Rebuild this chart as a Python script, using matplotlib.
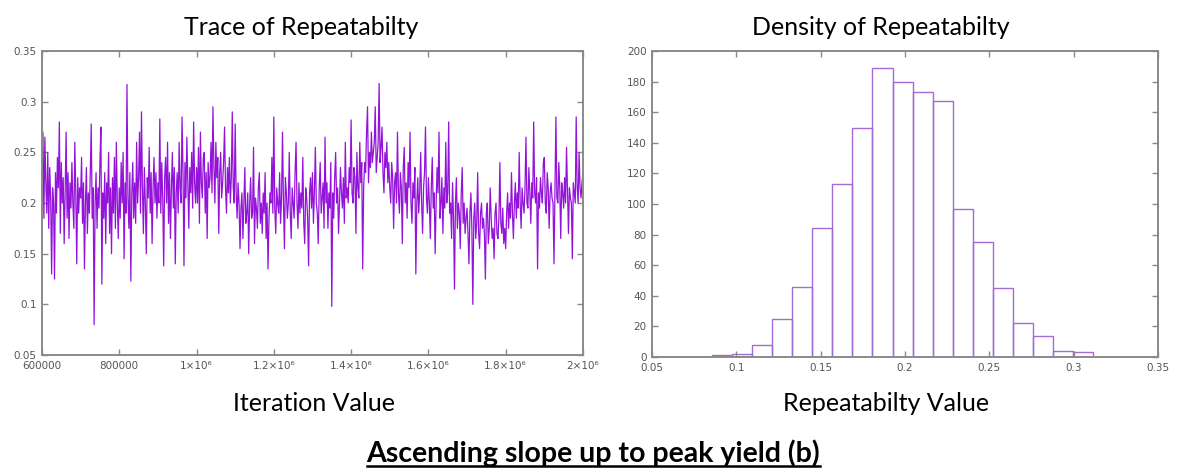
import numpy as np
import matplotlib
matplotlib.use("Agg")
import matplotlib.pyplot as plt
from matplotlib.lines import Line2D

# trace of repeatability, one sample per 2500 iterations
TRACE_START, TRACE_STEP = 600000, 2500
trace = [
    # 600k - 700k
    0.2, 0.27, 0.185, 0.265, 0.22, 0.19, 0.25, 0.175, 0.235, 0.205, 0.13, 0.215, 0.2, 0.125, 0.23, 0.19, 0.245, 0.215, 0.28, 0.17,
    0.24, 0.2, 0.225, 0.16, 0.21, 0.27, 0.185, 0.23, 0.165, 0.22, 0.195, 0.24, 0.2, 0.175, 0.26, 0.21, 0.14, 0.225, 0.19, 0.215,
    # 700k - 800k
    0.205, 0.245, 0.18, 0.22, 0.135, 0.2, 0.235, 0.17, 0.21, 0.19, 0.228, 0.278, 0.185, 0.215, 0.08, 0.2, 0.23, 0.175, 0.215, 0.195,
    0.24, 0.275, 0.12, 0.21, 0.185, 0.23, 0.16, 0.22, 0.2, 0.25, 0.17, 0.215, 0.15, 0.225, 0.19, 0.245, 0.175, 0.26, 0.2, 0.165,
    # 800k - 900k
    0.215, 0.185, 0.24, 0.2, 0.25, 0.145, 0.22, 0.19, 0.317, 0.205, 0.175, 0.23, 0.123, 0.21, 0.24, 0.185, 0.22, 0.18, 0.26, 0.2,
    0.225, 0.27, 0.19, 0.29, 0.215, 0.17, 0.235, 0.2, 0.15, 0.225, 0.205, 0.255, 0.19, 0.23, 0.16, 0.215, 0.245, 0.2, 0.23, 0.185,
    # 900k - 1.0M
    0.22, 0.2, 0.283, 0.19, 0.24, 0.205, 0.138, 0.225, 0.245, 0.2, 0.26, 0.18, 0.23, 0.165, 0.215, 0.25, 0.195, 0.235, 0.14, 0.21,
    0.23, 0.19, 0.26, 0.215, 0.2, 0.285, 0.23, 0.138, 0.24, 0.205, 0.265, 0.22, 0.175, 0.235, 0.21, 0.25, 0.195, 0.28, 0.22, 0.2,
    # 1.0M - 1.1M
    0.235, 0.2, 0.255, 0.18, 0.27, 0.22, 0.205, 0.245, 0.25, 0.19, 0.23, 0.165, 0.24, 0.215, 0.225, 0.26, 0.21, 0.295, 0.235, 0.2,
    0.26, 0.225, 0.245, 0.17, 0.23, 0.25, 0.205, 0.22, 0.24, 0.275, 0.215, 0.19, 0.235, 0.21, 0.245, 0.2, 0.225, 0.29, 0.215, 0.2,
    # 1.1M - 1.2M
    0.278, 0.21, 0.185, 0.22, 0.2, 0.155, 0.195, 0.21, 0.165, 0.2, 0.235, 0.18, 0.19, 0.21, 0.15, 0.2, 0.225, 0.185, 0.19, 0.255,
    0.16, 0.205, 0.195, 0.175, 0.215, 0.23, 0.18, 0.2, 0.17, 0.21, 0.19, 0.23, 0.165, 0.2, 0.135, 0.185, 0.21, 0.2, 0.245, 0.19,
    # 1.2M - 1.3M
    0.285, 0.195, 0.17, 0.215, 0.2, 0.19, 0.23, 0.18, 0.205, 0.27, 0.2, 0.155, 0.225, 0.21, 0.185, 0.2, 0.25, 0.19, 0.165, 0.215,
    0.2, 0.185, 0.23, 0.26, 0.2, 0.175, 0.22, 0.19, 0.21, 0.195, 0.245, 0.18, 0.16, 0.215, 0.205, 0.185, 0.138, 0.21, 0.225, 0.195,
    # 1.3M - 1.4M
    0.23, 0.18, 0.21, 0.255, 0.2, 0.19, 0.16, 0.215, 0.24, 0.19, 0.205, 0.22, 0.175, 0.265, 0.2, 0.22, 0.175, 0.21, 0.195, 0.24,
    0.098, 0.21, 0.185, 0.225, 0.25, 0.2, 0.215, 0.17, 0.2, 0.235, 0.21, 0.195, 0.225, 0.18, 0.26, 0.205, 0.215, 0.2, 0.235, 0.22,
    # 1.4M - 1.5M
    0.282, 0.21, 0.2, 0.235, 0.225, 0.17, 0.25, 0.215, 0.205, 0.26, 0.22, 0.24, 0.135, 0.215, 0.24, 0.23, 0.27, 0.295, 0.22, 0.25,
    0.235, 0.27, 0.24, 0.25, 0.26, 0.295, 0.23, 0.245, 0.26, 0.318, 0.24, 0.255, 0.275, 0.23, 0.21, 0.25, 0.235, 0.26, 0.22, 0.24,
    # 1.5M - 1.6M
    0.215, 0.2, 0.24, 0.225, 0.175, 0.22, 0.23, 0.2, 0.27, 0.21, 0.19, 0.23, 0.215, 0.16, 0.235, 0.255, 0.2, 0.22, 0.185, 0.24,
    0.215, 0.27, 0.2, 0.18, 0.22, 0.205, 0.235, 0.13, 0.2, 0.225, 0.19, 0.21, 0.25, 0.2, 0.17, 0.215, 0.23, 0.275, 0.205, 0.19,
    # 1.6M - 1.7M
    0.225, 0.2, 0.165, 0.215, 0.245, 0.195, 0.21, 0.15, 0.2, 0.235, 0.21, 0.27, 0.185, 0.2, 0.225, 0.17, 0.215, 0.195, 0.26, 0.2,
    0.21, 0.28, 0.19, 0.2, 0.165, 0.22, 0.185, 0.115, 0.2, 0.225, 0.175, 0.2, 0.19, 0.155, 0.21, 0.235, 0.18, 0.2, 0.17, 0.185,
    # 1.7M - 1.8M
    0.195, 0.17, 0.14, 0.19, 0.21, 0.175, 0.1, 0.185, 0.2, 0.165, 0.18, 0.23, 0.17, 0.155, 0.19, 0.2, 0.175, 0.185, 0.17, 0.125,
    0.19, 0.2, 0.16, 0.175, 0.215, 0.185, 0.165, 0.175, 0.145, 0.19, 0.2, 0.17, 0.165, 0.185, 0.24, 0.18, 0.17, 0.195, 0.16, 0.175,
    # 1.8M - 1.9M
    0.155, 0.19, 0.21, 0.175, 0.2, 0.185, 0.23, 0.19, 0.165, 0.2, 0.22, 0.185, 0.21, 0.195, 0.25, 0.2, 0.175, 0.215, 0.2, 0.19,
    0.215, 0.265, 0.2, 0.195, 0.235, 0.21, 0.18, 0.22, 0.205, 0.28, 0.21, 0.2, 0.225, 0.135, 0.21, 0.195, 0.225, 0.21, 0.2, 0.24,
    # 1.9M - 2.0M
    0.245, 0.2, 0.19, 0.23, 0.215, 0.175, 0.21, 0.22, 0.205, 0.2, 0.14, 0.215, 0.285, 0.205, 0.2, 0.24, 0.215, 0.165, 0.22, 0.21,
    0.195, 0.225, 0.2, 0.255, 0.21, 0.17, 0.215, 0.205, 0.2, 0.145, 0.22, 0.21, 0.2, 0.285, 0.215, 0.2, 0.25, 0.215, 0.205, 0.22,
    0.23,
]

# histogram of repeatability
BIN_START, BIN_WIDTH = 0.0855, 0.0119
counts = [1, 2, 8, 25, 46, 84, 113, 150, 189, 180, 173, 167, 97, 75, 45, 22, 14, 4, 3]

trace_xticks = [600000, 800000, 1000000, 1200000, 1400000, 1600000, 1800000, 2000000]
trace_xlabels = ["600000", "800000", "1×10⁶", "1.2×10⁶", "1.4×10⁶", "1.6×10⁶", "1.8×10⁶", "2×10⁶"]
trace_yticks = [0.05, 0.1, 0.15, 0.2, 0.25, 0.3, 0.35]
trace_ylabels = ["0.05", "0.1", "0.15", "0.2", "0.25", "0.3", "0.35"]
hist_xticks = [0.05, 0.1, 0.15, 0.2, 0.25, 0.3, 0.35]
hist_xlabels = ["0.05", "0.1", "0.15", "0.2", "0.25", "0.3", "0.35"]
hist_yticks = [0, 20, 40, 60, 80, 100, 120, 140, 160, 180, 200]

LINE_C, BAR_C, SPINE_C, TICK_C = "#9314d8", "#a36bd6", "#8a8a8a", "#555555"
TXT_FONT = ["Lato", "DejaVu Sans"]

fig = plt.figure(figsize=(11.82, 4.74), dpi=100)
ax1 = fig.add_axes([0.0355, 0.251, 0.4577, 0.6413])
ax2 = fig.add_axes([0.5516, 0.2468, 0.4281, 0.6456])

iters = TRACE_START + TRACE_STEP * np.arange(len(trace))
ax1.plot(iters, trace, color=LINE_C, lw=0.9)
ax1.set_xlim(600000, 2000000); ax1.set_ylim(0.05, 0.35)
ax1.set_xticks(trace_xticks, trace_xlabels)
ax1.set_yticks(trace_yticks, trace_ylabels)

edges = BIN_START + BIN_WIDTH * np.arange(len(counts))
ax2.bar(edges, counts, width=BIN_WIDTH, align="edge", fill=False, edgecolor=BAR_C, lw=1.0)
ax2.set_xlim(0.05, 0.35); ax2.set_ylim(0, 200)
ax2.set_xticks(hist_xticks, hist_xlabels)
ax2.set_yticks(hist_yticks)

for ax in (ax1, ax2):
    for s in ax.spines.values():
        s.set_color(SPINE_C); s.set_linewidth(1.4)
    ax.tick_params(direction="in", top=True, right=True, length=4, width=1.0,
                   color=SPINE_C, labelcolor=TICK_C, labelsize=7.5, pad=4)
    ax.tick_params(axis="y", labelright=False)

fig.text(0.255, 0.926, "Trace of Repeatabilty", ha="center", va="baseline", fontsize=18, family=TXT_FONT)
fig.text(0.745, 0.926, "Density of Repeatabilty", ha="center", va="baseline", fontsize=18, family=TXT_FONT)
fig.text(0.266, 0.132, "Iteration Value", ha="center", va="baseline", fontsize=18, family=TXT_FONT)
fig.text(0.750, 0.132, "Repeatabilty Value", ha="center", va="baseline", fontsize=18, family=TXT_FONT)
cap = fig.text(0.502, 0.025, "Ascending slope up to peak yield (b)", ha="center", va="baseline",
               fontsize=20.5, fontweight="bold", family=TXT_FONT)

# underline the bottom caption
fig.canvas.draw()
bb = cap.get_window_extent().transformed(fig.transFigure.inverted())
fig.add_artist(Line2D([bb.x0, bb.x1], [bb.y0 + 0.003, bb.y0 + 0.003], color="black", lw=1.8,
                      transform=fig.transFigure))

fig.savefig("out.png", dpi=100)
